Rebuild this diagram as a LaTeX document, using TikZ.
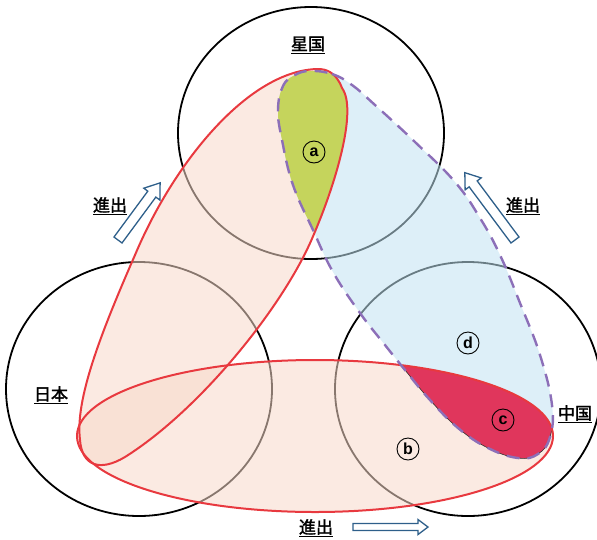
\documentclass[tikz,border=0pt]{standalone}
\usepackage{fontspec}
\newfontfamily\cjk{Noto Sans CJK JP}[FakeBold=2]
\newfontfamily\latf{Liberation Sans}
\definecolor{peachc}{HTML}{F8D9CA}
\definecolor{bluec}{HTML}{C1E2F2}
\definecolor{greenc}{HTML}{C5D45C}
\definecolor{crimc}{HTML}{E0365C}
\definecolor{redl}{HTML}{E8393F}
\definecolor{purpl}{HTML}{8C6FB8}
\definecolor{arrb}{HTML}{2E5F8A}
\tikzset{
  circline/.style={draw=black, line width=1.8pt},
  peachfill/.style={fill=peachc, fill opacity=0.55},
  bluefill/.style={fill=bluec, fill opacity=0.55},
  redline/.style={draw=redl, line width=2pt},
  purpline/.style={draw=purpl, line width=2.4pt, dash pattern=on 13pt off 8pt},
  arrline/.style={draw=arrb, line width=1.3pt, fill=white, line join=miter},
  lettercirc/.style={circle, draw=black, line width=0.9pt, minimum size=22pt, inner sep=0pt, font=\latf\bfseries\fontsize{16}{16}\selectfont},
  cjklabel/.style={font=\cjk\fontsize{17}{17}\selectfont, inner sep=0pt}
}
\def\pathT{(318,69) .. controls (250,70) and (175,160) .. (135,255) .. controls (100,335) and (75,400) .. (80,440) .. controls (82,466) and (100,472) .. (125,457) .. controls (200,410) and (285,305) .. (314,234) .. controls (335,185) and (358,110) .. (342,88) .. controls (336,72) and (326,69) .. (318,69) -- cycle}
\def\pathP{plot[smooth cycle, tension=0.7] coordinates {(310,71) (332,74) (352,85) (375,105) (415,142) (455,182) (480,218) (500,255) (520,303) (540,355) (552,405) (550,437) (538,454) (518,458) (488,448) (458,428) (430,400) (405,370) (385,345) (360,313) (333,272) (313,230) (293,185) (282,140) (278,110) (283,86) (295,75)}}
\def\pathE{(315,436) ellipse [x radius=238pt, y radius=76pt]}
\newcommand{\hollowarr}[7]{% x, y, angle, length, shaft half, head half, head length
  \draw[arrline, shift={(#1,#2)}, rotate=#3] (0,-#5) -- (#4-#7,-#5) -- (#4-#7,-#6) -- (#4,0) -- (#4-#7,#6) -- (#4-#7,#5) -- (0,#5) -- cycle;}
\begin{document}
\begin{tikzpicture}[x=1pt,y=-1pt]
\useasboundingbox (0,0) rectangle (597,539);
% circles
\draw[circline] (311,133) ellipse [x radius=133pt, y radius=126pt];
\draw[circline] (139,389) ellipse [x radius=133pt, y radius=127pt];
\draw[circline] (468,389) ellipse [x radius=133pt, y radius=127pt];
% translucent regions
\fill[peachfill] \pathT;
\fill[peachfill] \pathE;
\fill[bluefill] \pathP;
% solid regions
\begin{scope}
  \clip \pathP;
  \fill[greenc] \pathT;
\end{scope}
\begin{scope}
  \clip \pathP;
  \fill[crimc] \pathE;
\end{scope}
\begin{scope}
  \clip \pathE;
  \draw[black!80, line width=0.6pt] \pathP;
\end{scope}
% outlines
\draw[redline] \pathT;
\draw[redline] \pathE;
\draw[purpline] \pathP;
% letters
\node[lettercirc] (la) at (314,152) {a};
\node[lettercirc] (lb) at (408,449) {b};
\node[lettercirc] (lc) at (503,420) {c};
\node[lettercirc] (ld) at (468,343) {d};
% country labels
\node[cjklabel] (star) at (308,45) {\underline{星国}};
\node[cjklabel] (japan) at (51,395) {\underline{日本}};
\node[cjklabel] (china) at (575,414) {\underline{中国}};
% expansion labels
\node[cjklabel] (s1) at (110,206) {\underline{進出}};
\node[cjklabel] (s2) at (523,206) {\underline{進出}};
\node[cjklabel] (s3) at (316,528) {\underline{進出}};
% arrows
\hollowarr{118}{240}{53.6}{71}{5}{10}{14}
\hollowarr{515}{240}{126.7}{84}{5}{10}{14}
\hollowarr{353}{527}{0}{75}{3.5}{7.5}{10}
\end{tikzpicture}
\end{document}
